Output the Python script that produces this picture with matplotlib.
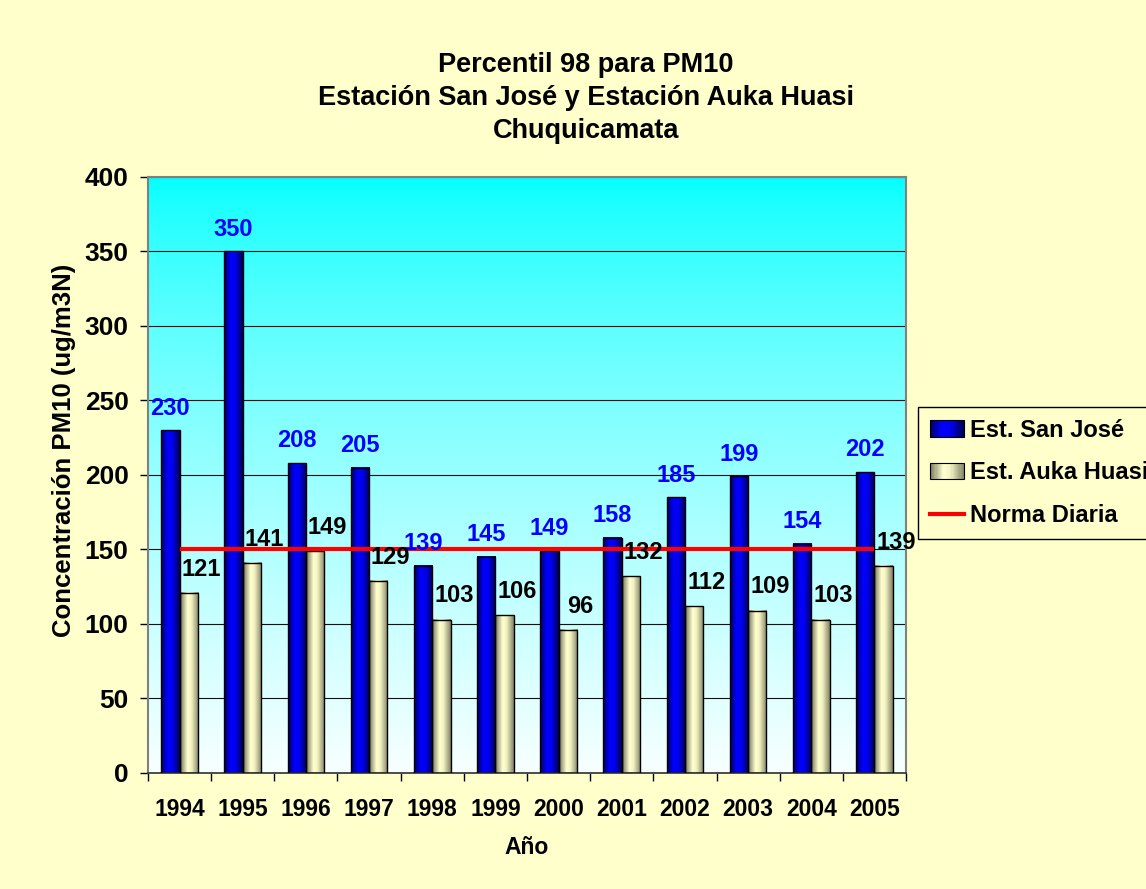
import matplotlib
matplotlib.use("Agg")
import matplotlib.pyplot as plt
import numpy as np
from matplotlib.colors import LinearSegmentedColormap
from matplotlib.patches import Rectangle
from matplotlib.legend_handler import HandlerBase
from matplotlib.lines import Line2D

plt.rcParams['font.family'] = ['Liberation Sans', 'DejaVu Sans']
plt.rcParams['font.weight'] = 'bold'

# Datos
years = ['1994', '1995', '1996', '1997', '1998', '1999',
         '2000', '2001', '2002', '2003', '2004', '2005']
san_jose = [230, 350, 208, 205, 139, 145, 149, 158, 185, 199, 154, 202]
auka_huasi = [121, 141, 149, 129, 103, 106, 96, 132, 112, 109, 103, 139]
norma = [150] * 12

fondo = '#FFFFCC'
blue_cmap = LinearSegmentedColormap.from_list(
    'azul', [(0, '#00005A'), (0.35, '#0000FF'), (0.6, '#0000F0'), (1, '#000050')])
beige_cmap = LinearSegmentedColormap.from_list(
    'beige', [(0, '#74745A'), (0.4, '#FFFFD0'), (0.6, '#F4F4C2'), (1, '#84846A')])


class GradientHandler(HandlerBase):
    def __init__(self, cmap):
        super().__init__()
        self.cmap = cmap

    def create_artists(self, legend, orig_handle, xdescent, ydescent,
                       width, height, fontsize, trans):
        n = 30
        arts = []
        for i in range(n):
            r = Rectangle((-xdescent + i * width / n, -ydescent), width / n + 0.3, height,
                          facecolor=self.cmap((i + 0.5) / n), edgecolor='none', transform=trans)
            arts.append(r)
        arts.append(Rectangle((-xdescent, -ydescent), width, height, facecolor='none',
                              edgecolor='black', lw=0.8, transform=trans))
        return arts


fig = plt.figure(figsize=(11.46, 8.89), dpi=100, facecolor=fondo)
ax = fig.add_axes([0.1291, 0.1305, 0.7906 - 0.1291, 0.8009 - 0.1305])

# fondo degradado del area de trazado (cian arriba, casi blanco abajo)
t = np.linspace(0, 1, 256)
grad = np.ones((256, 1, 3))
grad[:, 0, 0] = 0.97 * t ** 0.7
ax.imshow(grad, extent=[0, 1, 0, 1], transform=ax.transAxes, aspect='auto', zorder=0)

x = np.arange(len(years))
w = 0.29
hgrad = np.linspace(0, 1, 64).reshape(1, -1)

bars1 = ax.bar(x - w / 2, san_jose, w, facecolor='none', edgecolor='black', lw=1.0, zorder=3)
bars2 = ax.bar(x + w / 2, auka_huasi, w, facecolor='none', edgecolor='black', lw=1.0, zorder=3)
for bars, cmap in [(bars1, blue_cmap), (bars2, beige_cmap)]:
    for b in bars:
        x0, y0 = b.get_x(), b.get_y()
        ax.imshow(hgrad, cmap=cmap, extent=[x0, x0 + b.get_width(), y0, y0 + b.get_height()],
                  aspect='auto', zorder=2, interpolation='bilinear')

ax.plot(x, norma, color='#FF0000', lw=3, zorder=4, solid_capstyle='butt')

for xi, v in zip(x, san_jose):
    ax.annotate(str(v), (xi - w / 2, v), xytext=(0, 16), textcoords='offset points',
                ha='center', va='center', color='#0000FF', fontsize=17, fontweight='bold', zorder=5)
for xi, v in zip(x, auka_huasi):
    ax.annotate(str(v), (xi + w / 2, v), xytext=(9, 17), textcoords='offset points',
                ha='center', va='center', color='black', fontsize=17, fontweight='bold', zorder=5)

ax.set_xlim(-0.5, 11.5)
ax.set_ylim(0, 400)
ax.set_yticks(np.arange(0, 401, 50))
ax.set_xticks(x)
ax.set_xticklabels(years)
ax.set_xticks(np.arange(-0.5, 12, 1), minor=True)
ax.tick_params(axis='x', which='major', length=0, pad=18, labelsize=16.5)
ax.tick_params(axis='x', which='minor', length=6, width=1, direction='out')
ax.tick_params(axis='y', length=6, width=1, direction='out', pad=8, labelsize=19)
for lab in ax.get_xticklabels() + ax.get_yticklabels():
    lab.set_fontweight('bold')

ax.set_axisbelow(True)
ax.yaxis.grid(True, color='#101010', lw=0.8)

for s in ['top', 'right', 'left']:
    ax.spines[s].set_color('#808080')
    ax.spines[s].set_linewidth(1.5)
ax.spines['bottom'].set_color('#303030')
ax.spines['bottom'].set_linewidth(1.2)

fig.text(527 / 1146, 1 - 848 / 889, 'Año', ha='center', va='center',
         fontsize=16.5, fontweight='bold')
fig.text(64 / 1146, 1 - 450 / 889, 'Concentración PM10 (ug/m3N)', rotation=90,
         ha='center', va='center', fontsize=18.5, fontweight='bold')

fig.text(0.511, 1 - 98 / 889, 'Percentil 98 para PM10\nEstación San José y Estación Auka Huasi\nChuquicamata',
         ha='center', va='center', multialignment='center', fontsize=19.5, fontweight='bold',
         linespacing=1.36)

h1 = Rectangle((0, 0), 1, 1)
h2 = Rectangle((0, 0), 1, 1)
h3 = Line2D([], [], color='#FF0000', lw=3)
leg = fig.legend([h1, h2, h3], ['Est. San José', 'Est. Auka Huasi', 'Norma Diaria'],
                 handler_map={h1: GradientHandler(blue_cmap), h2: GradientHandler(beige_cmap)},
                 loc='upper left', bbox_to_anchor=(0.801, 1 - 407 / 889), borderaxespad=0,
                 prop={'size': 17, 'weight': 'bold'}, frameon=True, fancybox=False,
                 edgecolor='black', facecolor=fondo, framealpha=1, handlelength=1.45,
                 handletextpad=0.25, labelspacing=0.83, borderpad=0.5)
leg.get_frame().set_linewidth(1.0)

fig.savefig('out.png', dpi=100, facecolor=fondo)
